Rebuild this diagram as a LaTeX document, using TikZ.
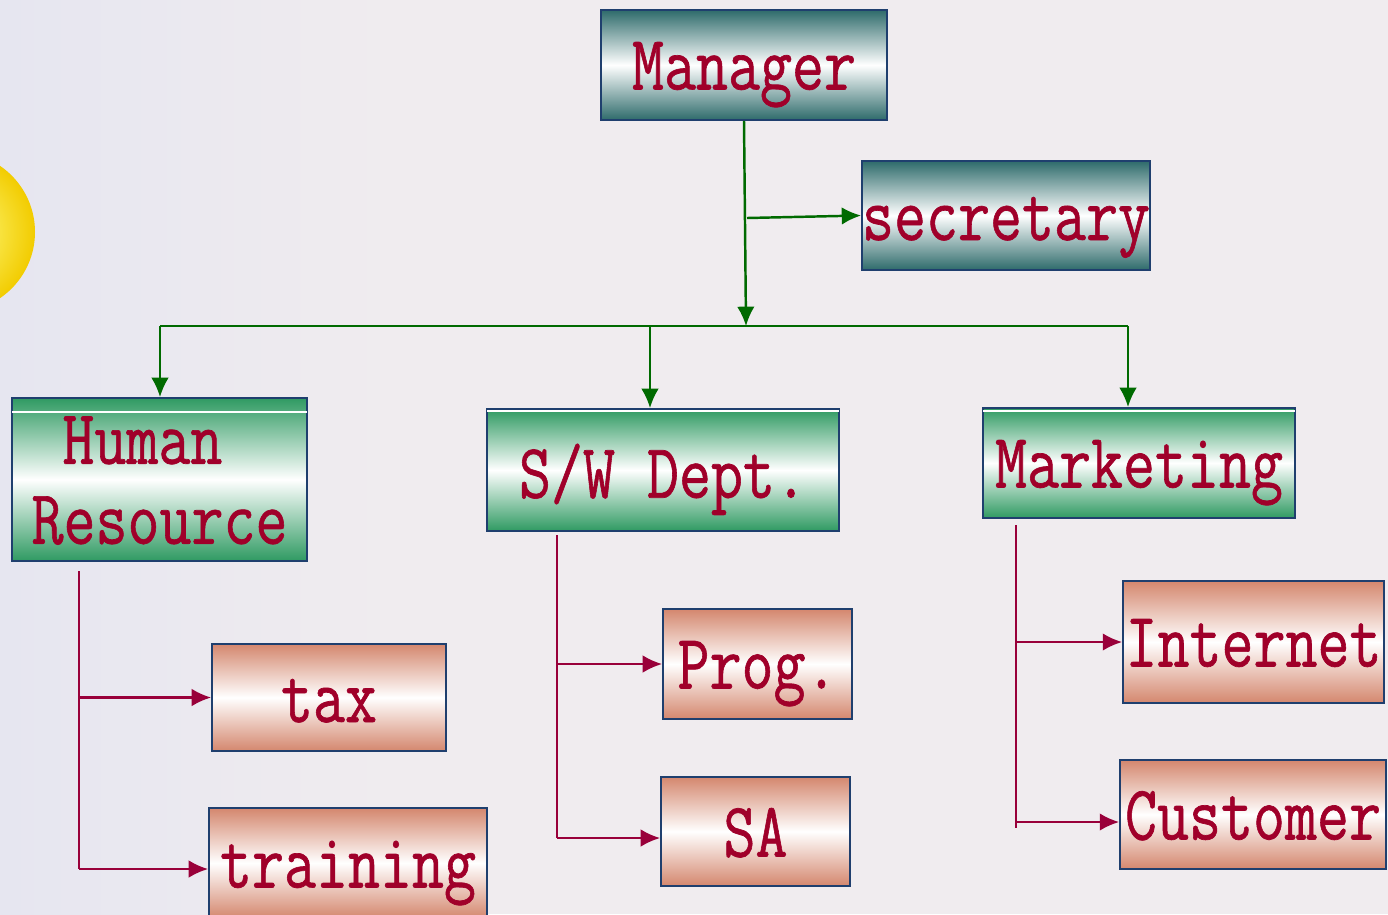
\documentclass[tikz,border=0pt]{standalone}
\usepackage{fontspec}
\usepackage{graphicx}
\usetikzlibrary{arrows.meta}
\newfontfamily\boxfont{Latin Modern Mono}[FakeBold=0.9]
\definecolor{boxblue}{HTML}{1F3F6E}
\definecolor{tealdark}{HTML}{2E6B6B}
\definecolor{greendark}{HTML}{2F9A62}
\definecolor{salmon}{HTML}{D4876E}
\definecolor{textred}{HTML}{A0002A}
\definecolor{lineg}{HTML}{006A00}
\definecolor{liner}{HTML}{99003A}
\definecolor{backg}{HTML}{F0ECEF}
\definecolor{backl}{HTML}{E6E6F0}
\definecolor{ballyel}{HTML}{F2CC00}
\newcommand{\tall}[1]{\raisebox{-5.5pt}[\height][\depth]{\scalebox{1.04}[1.3]{#1\vphantom{Mg}}}}
\tikzset{
  box/.style={draw=boxblue, line width=1.1pt, inner sep=0pt, text=textred,
    font=\boxfont\fontsize{34}{34}\selectfont},
  tealbox/.style={box, top color=tealdark, bottom color=tealdark, middle color=white},
  greenbox/.style={box, top color=greendark, bottom color=greendark, middle color=white},
  salmonbox/.style={box, top color=salmon, bottom color=salmon, middle color=white},
  gline/.style={draw=lineg, line width=1.4pt},
  garrow/.style={gline, -{Latex[length=11pt,width=10pt]}},
  rline/.style={draw=liner, line width=1.3pt},
  rarrow/.style={rline, -{Latex[length=11pt,width=10pt]}}
}
\begin{document}
\begin{tikzpicture}[x=0.02cm, y=-0.02cm]
\useasboundingbox (0,0) rectangle (1388,914);
\begin{scope}
\clip (0,0) rectangle (1388,914);
\shade[left color=backl, right color=backg] (0,0) rectangle (400,914);
\fill[backg] (400,0) rectangle (1388,914);
\shade[inner color=yellow!45!white, outer color=ballyel] (-45,232) circle (80);

% top level
\node[tealbox, minimum width=5.72cm, minimum height=2.2cm] (mgr) at (744,65) {\tall{Manager}};
\node[tealbox, minimum width=5.72cm, minimum height=2.18cm] (sec) at (1006,215.5) {\tall{secretary}};

% departments
\node[greenbox, minimum width=5.9cm, minimum height=3.26cm] (hr) at (159.5,479.5)
  {\raisebox{-5pt}[\height][\depth]{\scalebox{1.04}[1.3]{\begin{tabular}{@{}c@{}}\hspace*{-0.55em}Human\\[1pt]Resource\end{tabular}}}};
\node[greenbox, minimum width=7.04cm, minimum height=2.44cm] (sw) at (663,470) {\tall{S/W Dept.}};
\node[greenbox, minimum width=6.24cm, minimum height=2.2cm] (mkt) at (1139,463) {\tall{Marketing}};
\draw[white, line width=0.6pt] (12,412) -- (307,412);
\draw[white, line width=0.6pt] (487,411) -- (839,411);
\draw[white, line width=0.6pt] (983,411) -- (1295,411);

% sections
\node[salmonbox, minimum width=4.68cm, minimum height=2.14cm] (tax) at (329,697.5) {\tall{tax}};
\node[salmonbox, minimum width=5.56cm, minimum height=2.2cm] (trn) at (348,863) {\tall{training}};
\node[salmonbox, minimum width=3.78cm, minimum height=2.2cm] (prog) at (757.5,664) {\tall{Prog.}};
\node[salmonbox, minimum width=3.78cm, minimum height=2.18cm] (sa) at (755.5,831.5) {\tall{SA}};
\node[salmonbox, minimum width=5.22cm, minimum height=2.44cm] (net) at (1253.5,642) {\tall{Internet}};
\node[salmonbox, minimum width=5.32cm, minimum height=2.18cm] (cust) at (1253,814.5) {\tall{Customer}};

% green connectors
\coordinate (bus) at (746,326);
\coordinate (busL) at (160,326);
\coordinate (busM) at (650,326);
\coordinate (busR) at (1128,326);
\coordinate (secj) at (747,218);
\draw[garrow] (mgr.south) -- (bus);
\draw[garrow] (secj) -- (sec.west);
\draw[gline] (busL) -- (busR);
\draw[garrow] (busL) -- (busL |- hr.north);
\draw[garrow] (busM) -- (busM |- sw.north);
\draw[garrow] (busR) -- (busR |- mkt.north);

% red connectors
\coordinate (hrt) at (79,571);
\coordinate (hrb) at (79,869);
\draw[rline] (hrt) -- (hrb);
\draw[rarrow] (hrt |- tax.west) -- (tax.west);
\draw[rarrow] (hrb) -- (trn.west |- hrb);

\coordinate (swt) at (557,535);
\coordinate (swb) at (557,838);
\draw[rline] (swt) -- (swb);
\draw[rarrow] (swt |- prog.west) -- (prog.west);
\draw[rarrow] (swb) -- (sa.west |- swb);

\coordinate (mkt1) at (1016,525);
\coordinate (mkb) at (1016,828);
\draw[rline] (mkt1) -- (mkb);
\draw[rarrow] (mkt1 |- net.west) -- (net.west);
\draw[rarrow] (1016,822) -- (cust.west |- 1016,822);
\end{scope}
\end{tikzpicture}
\end{document}
